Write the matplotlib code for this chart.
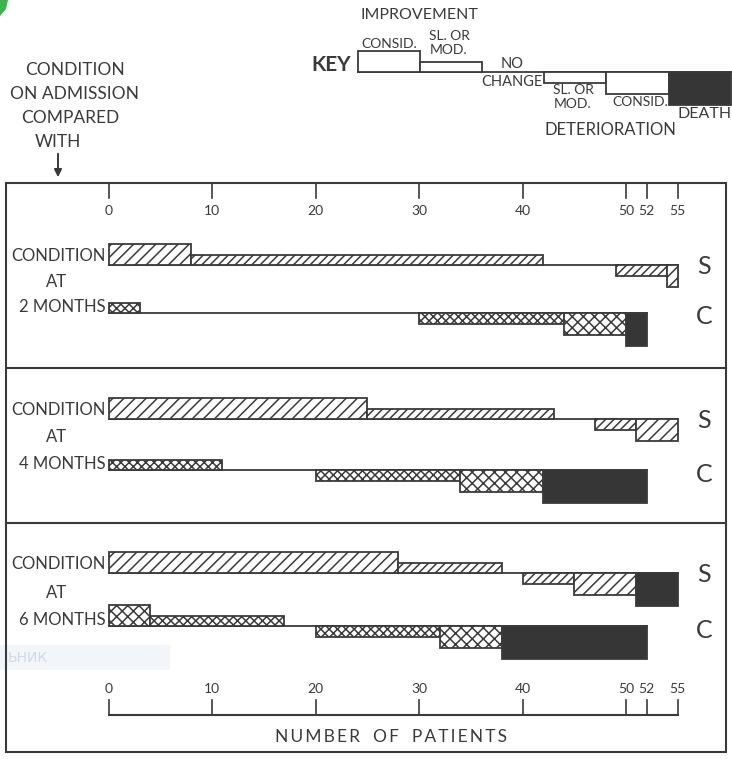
import matplotlib.pyplot as plt
from matplotlib.patches import Rectangle, Polygon

# Patients per outcome group, in the order:
# consid. improvement, sl./mod. improvement, no change,
# sl./mod. deterioration, consid. deterioration, death
groups = ["consid_imp", "slmod_imp", "no_change", "slmod_det", "consid_det", "death"]
month_labels = ["2 MONTHS", "4 MONTHS", "6 MONTHS"]
s_counts = [
    [8, 34, 7, 5, 1, 0],
    [25, 18, 4, 4, 4, 0],
    [28, 10, 2, 5, 6, 4],
]
c_counts = [
    [0, 3, 27, 14, 6, 2],
    [0, 11, 9, 14, 8, 10],
    [4, 13, 3, 12, 6, 14],
]
axis_ticks = [0, 10, 20, 30, 40, 50, 52, 55]

INK = "#3a3a3a"
DARK = "#363636"
FONT = ["Lato", "DejaVu Sans"]

plt.rcParams["font.family"] = FONT
plt.rcParams["hatch.linewidth"] = 1.1

# vertical extent of each group box relative to the row baseline (y grows downward)
box_span = {
    "consid_imp": (-21, 0),
    "slmod_imp": (-10, 0),
    "no_change": None,
    "slmod_det": (0, 11),
    "consid_det": (0, 22),
    "death": (0, 33),
}
s_hatch = {"consid_imp": "///", "slmod_imp": "////", "slmod_det": "////",
           "consid_det": "///", "death": None}
c_hatch = {"consid_imp": "xxx", "slmod_imp": "xxxx", "slmod_det": "xxxx",
           "consid_det": "xxx", "death": None}

# row baselines and panel frame, in figure pixels
s_base = [265, 419, 573]
c_base = [313, 470, 626]
frame_top, frame_bottom = 183, 752
dividers = [368, 523]

W, H = 732, 759
x0_px, unit_px = 108.5, 10.35


def px(x):
    return (x - x0_px) / unit_px


fig = plt.figure(figsize=(W / 100, H / 100), dpi=100)
fig.patch.set_facecolor("white")
ax = fig.add_axes([0, 0, 1, 1])
ax.set_xlim(px(0), px(W))
ax.set_ylim(H, 0)
ax.axis("off")


def draw_row(counts, base, hatches):
    left = 0
    for g, n in zip(groups, counts):
        span = box_span[g]
        if n and span is not None:
            top, bot = span
            if g == "death":
                fc, hatch = DARK, None
            else:
                fc, hatch = "white", hatches[g]
            ax.barh(base + (top + bot) / 2, n, left=left, height=bot - top,
                    facecolor=fc, edgecolor=INK, hatch=hatch, linewidth=1.3,
                    zorder=3)
        left += n
    ax.plot([0, left], [base, base], color=INK, lw=1.3, zorder=2)


for i in range(3):
    draw_row(s_counts[i], s_base[i], s_hatch)
    draw_row(c_counts[i], c_base[i], c_hatch)
    ax.text(px(106), s_base[i] - 9, "CONDITION", ha="right", va="center",
            fontsize=12, color=INK)
    ax.text(px(57), (s_base[i] + c_base[i]) / 2 - 7, "AT", ha="center",
            va="center", fontsize=12, color=INK)
    ax.text(px(106), c_base[i] - 6, month_labels[i], ha="right", va="center",
            fontsize=12, color=INK)
    ax.text(px(704), s_base[i] + 2, "S", ha="center", va="center",
            fontsize=18, color=INK)
    ax.text(px(704), c_base[i] + 4, "C", ha="center", va="center",
            fontsize=18, color=INK)

# panel frame
ax.add_patch(Rectangle((px(6), frame_top), px(726) - px(6), frame_bottom - frame_top,
                       fill=False, edgecolor=INK, lw=1.5, zorder=4))
for y in dividers:
    ax.plot([px(6), px(726)], [y, y], color=INK, lw=1.5, zorder=4)

# top scale
for t in axis_ticks:
    ax.plot([t, t], [frame_top, 198], color=INK, lw=1.2)
    ax.text(t, 211, str(t), ha="center", va="center", fontsize=10, color=INK)

# bottom scale
ax.plot([0, axis_ticks[-1]], [715, 715], color=INK, lw=1.5)
for t in axis_ticks:
    ax.plot([t, t], [700, 715], color=INK, lw=1.2)
    ax.text(t, 689, str(t), ha="center", va="center", fontsize=10, color=INK)
ax.text(px(391), 737, "\u2009".join("NUMBER") + "\u2003" + "\u2009".join("OF")
        + "\u2003" + "\u2009".join("PATIENTS"), ha="center", va="center",
        fontsize=12.5, color=INK)

# heading on the left
for txt, xc, yc in [("CONDITION", 75, 70), ("ON ADMISSION", 75, 94),
                    ("COMPARED", 70, 118), ("WITH", 58, 142)]:
    ax.text(px(xc), yc, txt, ha="center", va="center", fontsize=12.5, color=INK)
ax.annotate("", xy=(px(58), 180), xytext=(px(58), 151),
            arrowprops=dict(arrowstyle="-|>", color=INK, lw=1.4,
                            mutation_scale=11))

# key
key_left, key_seg, key_base = px(358), 6.0, 72
ax.text(px(331), 65, "KEY", ha="center", va="center", fontsize=15,
        color=INK, fontweight="bold")
key_left_edge = key_left
for g in groups:
    span = box_span[g]
    if span is not None:
        top, bot = span
        fc = DARK if g == "death" else "white"
        ax.barh(key_base + (top + bot) / 2, key_seg, left=key_left_edge,
                height=bot - top, facecolor=fc, edgecolor=INK, linewidth=1.3,
                zorder=3, clip_on=False)
    key_left_edge += key_seg
ax.plot([key_left, key_left + 6 * key_seg], [key_base, key_base], color=INK,
        lw=1.3, zorder=2)

for txt, xc, yc, fs in [("IMPROVEMENT", 419, 15, 11.5), ("CONSID.", 389, 44, 10),
                        ("SL. OR", 449, 36, 10), ("MOD.", 449, 50, 10),
                        ("NO", 512, 64, 10.5), ("CHANGE", 512, 82, 10.5),
                        ("SL. OR", 573, 90, 10), ("MOD.", 573, 104, 10),
                        ("CONSID.", 640, 102, 10), ("DEATH", 705, 114, 11.5),
                        ("DETERIORATION", 610, 130, 12)]:
    ax.text(px(xc), yc, txt, ha="center", va="center", fontsize=fs, color=INK)

# faint overlay strip and corner mark
ax.add_patch(Rectangle((px(0), 645), px(170) - px(0), 25, facecolor="#f2f5f9",
                       edgecolor="none", zorder=1))
ax.text(px(8), 658, "ЬНИК", ha="left", va="center", fontsize=10,
        color="#d3d9e0", zorder=1, family="DejaVu Sans")
ax.add_patch(Polygon([(px(0), 0), (px(8), 0), (px(6), 9), (px(0), 16)],
                     closed=True, facecolor="#3bb54a", edgecolor="none"))

fig.savefig("out.png", dpi=100, facecolor="white")
